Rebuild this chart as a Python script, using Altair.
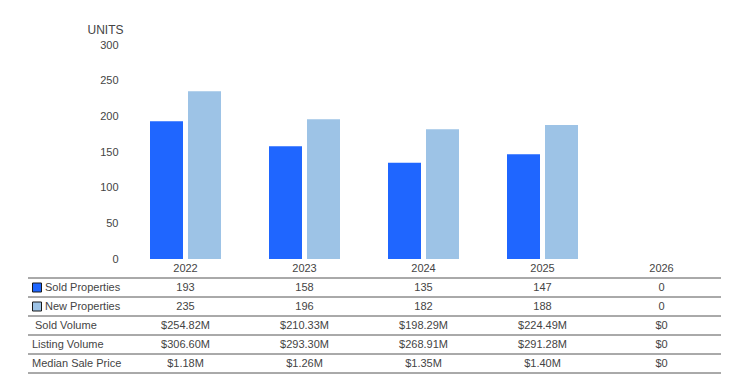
import altair as alt
import pandas as pd

years = ["2022", "2023", "2024", "2025", "2026"]
sold_properties = [193, 158, 135, 147, 0]
new_properties = [235, 196, 182, 188, 0]
sold_volume = ["$254.82M", "$210.33M", "$198.29M", "$224.49M", "$0"]
listing_volume = ["$306.60M", "$293.30M", "$268.91M", "$291.28M", "$0"]
median_sale_price = ["$1.18M", "$1.26M", "$1.35M", "$1.40M", "$0"]

series_names = ["Sold Properties", "New Properties"]
series_colors = ["#1F66FF", "#9DC3E6"]
row_keys = ["year", "sold", "new", "svol", "lvol", "med"]
row_labels = ["", "Sold Properties", "New Properties", "Sold Volume", "Listing Volume", "Median Sale Price"]
y_ticks = [0, 50, 100, 150, 200, 250, 300]

FONT = "Liberation Sans"
TXT = "#444444"

# ---- data tables built from the arrays ----
bars_df = pd.DataFrame(
    [{"year": y, "series": series_names[0], "value": v} for y, v in zip(years, sold_properties)]
    + [{"year": y, "series": series_names[1], "value": v} for y, v in zip(years, new_properties)]
)

row_values = {
    "year": years,
    "sold": [str(v) for v in sold_properties],
    "new": [str(v) for v in new_properties],
    "svol": sold_volume,
    "lvol": listing_volume,
    "med": median_sale_price,
}
cells_df = pd.DataFrame(
    [{"row": k, "year": y, "text": t} for k in row_keys for y, t in zip(years, row_values[k])]
)
labels_df = pd.DataFrame({"row": row_keys, "label": row_labels})
legend_df = pd.DataFrame({"row": ["sold", "new"], "series": series_names})

x_scale = alt.Scale(domain=years, range=[98, 693], paddingInner=0.4034, paddingOuter=0.2017)
row_scale = alt.Scale(domain=row_keys, range=[214, 328], paddingInner=0, paddingOuter=0)
color_scale = alt.Scale(domain=series_names, range=series_colors)

bars = alt.Chart(bars_df).mark_bar().encode(
    x=alt.X("year:N", scale=x_scale, axis=None),
    xOffset=alt.XOffset("series:N", scale=alt.Scale(domain=series_names, paddingInner=0.1316, paddingOuter=0)),
    y=alt.Y(
        "value:Q",
        scale=alt.Scale(domain=[0, 300], range=[214, 0], nice=False, zero=True),
        axis=alt.Axis(
            values=y_ticks, offset=-98, ticks=False, domain=False, grid=False,
            labelPadding=8, labelFontSize=11, labelColor=TXT, labelFont=FONT,
            title="UNITS", titleAngle=0, titleAlign="right", titleBaseline="middle",
            titleX=-3, titleY=-16, titleFontWeight="normal", titleFontSize=12,
            titleColor=TXT, titleFont=FONT,
        ),
    ),
    color=alt.Color("series:N", scale=color_scale, legend=None),
)

rules = alt.Chart(labels_df).mark_rule(color="#555555", strokeWidth=1).encode(
    y=alt.Y("row:N", scale=row_scale, bandPosition=1, axis=None),
    x=alt.value(0),
    x2=alt.value(693),
)

cells = alt.Chart(cells_df).mark_text(fontSize=11, font=FONT, color=TXT, baseline="middle", align="center").encode(
    x=alt.X("year:N", scale=x_scale, axis=None),
    y=alt.Y("row:N", scale=row_scale, axis=None),
    text="text:N",
)

def label_layer(keys, xpos):
    return alt.Chart(labels_df).transform_filter(
        alt.FieldOneOfPredicate(field="row", oneOf=keys)
    ).mark_text(fontSize=11, font=FONT, color=TXT, baseline="middle", align="left").encode(
        y=alt.Y("row:N", scale=row_scale, axis=None),
        x=alt.value(xpos),
        text="label:N",
    )

labels_legend = label_layer(["sold", "new"], 17)
labels_svol = label_layer(["svol"], 7)
labels_other = label_layer(["lvol", "med"], 4)

squares = alt.Chart(legend_df).mark_square(size=81, opacity=1, stroke="#1a1a1a", strokeWidth=1).encode(
    y=alt.Y("row:N", scale=row_scale, axis=None),
    x=alt.value(9),
    fill=alt.Fill("series:N", scale=color_scale, legend=None),
)

table = alt.layer(rules, cells, labels_legend, labels_svol, labels_other, squares)

chart = alt.layer(bars, table).resolve_scale(y="independent").properties(
    width=693,
    height=328,
    padding={"left": 20, "top": 37, "right": 15, "bottom": 5},
    autosize=alt.AutoSizeParams(type="none"),
).configure(font=FONT, view=alt.ViewConfig(stroke=None))

chart.save("out.html", embed_options={"renderer": "svg", "actions": False})
